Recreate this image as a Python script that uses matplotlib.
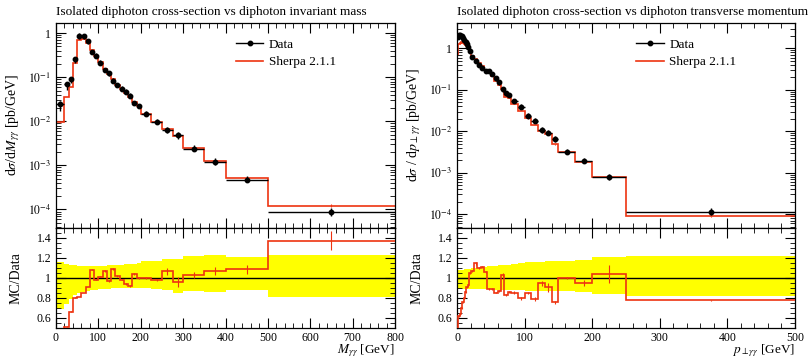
import matplotlib
matplotlib.use("Agg")
import matplotlib.pyplot as plt
import numpy as np
from matplotlib.lines import Line2D
from matplotlib.ticker import FixedLocator, MultipleLocator, FuncFormatter, LogLocator, NullFormatter

# ---- invariant mass ----
mass_edges = [0, 20, 30, 40, 50, 60, 70, 80, 90, 100, 110, 120, 130, 140, 150, 160, 170, 180, 190, 200,
              225, 250, 275, 300, 350, 400, 500, 800]
mass_data = [0.025, 0.070, 0.092, 0.26, 0.88, 0.86, 0.65, 0.38, 0.31, 0.216, 0.148, 0.122, 0.083, 0.066,
             0.055, 0.047, 0.038, 0.026, 0.022, 0.015, 0.0098, 0.0063, 0.0048, 0.0024, 0.00117, 0.00047, 8.9e-5]
mass_data_lo = [0.31, 0.26, 0.21, 0.17, 0.15, 0.14, 0.13, 0.12, 0.12, 0.11, 0.11, 0.11, 0.10, 0.10,
                0.10, 0.10, 0.10, 0.10, 0.10, 0.105, 0.11, 0.12, 0.15, 0.13, 0.14, 0.12, 0.19]
mass_data_hi = [0.16, 0.14, 0.13, 0.13, 0.12, 0.12, 0.12, 0.12, 0.12, 0.12, 0.12, 0.13, 0.13, 0.13,
                0.13, 0.14, 0.14, 0.14, 0.15, 0.165, 0.17, 0.19, 0.19, 0.22, 0.23, 0.21, 0.23]
mass_mc = [0.0096, 0.036, 0.061, 0.208, 0.71, 0.73, 0.59, 0.41, 0.304, 0.218, 0.158, 0.118, 0.090, 0.067,
           0.054, 0.044, 0.035, 0.027, 0.022, 0.015, 0.0096, 0.0067, 0.0046, 0.00247, 0.00125, 0.00051, 1.22e-4]
mass_mc_err = [0.02, 0.01, 0.01, 0.005, 0.004, 0.004, 0.004, 0.005, 0.005, 0.005, 0.006, 0.007, 0.008, 0.008,
               0.008, 0.009, 0.01, 0.01, 0.01, 0.01, 0.012, 0.03, 0.05, 0.03, 0.035, 0.04, 0.066]

# ---- transverse momentum ----
pt_edges = [0, 2, 4, 6, 8, 10, 12, 14, 16, 18, 20, 25, 30, 35, 40, 45, 50, 55, 60, 65, 70, 75, 80,
            90, 100, 110, 120, 130, 140, 150, 175, 200, 250, 500]
pt_data = [1.85, 2.05, 2.07, 2.0, 1.8, 1.6, 1.42, 1.25, 1.1, 0.88, 0.63, 0.49, 0.40, 0.33, 0.284, 0.288,
           0.24, 0.19, 0.151, 0.103, 0.082, 0.075, 0.054, 0.039, 0.024, 0.018, 0.0107, 0.0093, 0.0065,
           0.0032, 0.00195, 0.00078, 1.15e-4]
pt_data_lo = [0.11, 0.11, 0.11, 0.11, 0.11, 0.11, 0.11, 0.11, 0.11, 0.11, 0.11, 0.11, 0.11, 0.11, 0.11, 0.115,
              0.12, 0.12, 0.12, 0.12, 0.12, 0.12, 0.125, 0.125, 0.13, 0.13, 0.13, 0.13, 0.13,
              0.13, 0.14, 0.16, 0.18]
pt_data_hi = [0.08, 0.08, 0.08, 0.08, 0.08, 0.085, 0.085, 0.09, 0.09, 0.09, 0.10, 0.10, 0.10, 0.11, 0.11, 0.12,
              0.12, 0.12, 0.13, 0.13, 0.13, 0.13, 0.14, 0.15, 0.16, 0.16, 0.16, 0.17, 0.17,
              0.17, 0.18, 0.21, 0.22]
pt_mc = [0.74, 1.27, 1.32, 1.40, 1.37, 1.28, 1.22, 1.13, 1.02, 0.92, 0.67, 0.56, 0.44, 0.366, 0.30, 0.256,
         0.214, 0.162, 0.131, 0.106, 0.068, 0.0645, 0.046, 0.031, 0.0204, 0.0142, 0.0101, 0.0084, 0.0049,
         0.0032, 0.00185, 0.00081, 8.9e-5]
pt_mc_err = [0.02, 0.01, 0.01, 0.01, 0.01, 0.01, 0.01, 0.01, 0.01, 0.01, 0.01, 0.01, 0.01, 0.01, 0.01, 0.01,
             0.01, 0.01, 0.015, 0.02, 0.015, 0.015, 0.015, 0.015, 0.015, 0.02, 0.03, 0.05, 0.02,
             0.01, 0.03, 0.09, 0.01]

RED = "#EE3311"
YELLOW = "#FFFF00"

plt.rcParams["font.family"] = "serif"
plt.rcParams["font.serif"] = ["Liberation Serif", "DejaVu Serif"]
plt.rcParams["mathtext.fontset"] = "stix"
plt.rcParams["xtick.direction"] = "in"
plt.rcParams["ytick.direction"] = "in"
plt.rcParams["xtick.top"] = True
plt.rcParams["ytick.right"] = True
plt.rcParams["axes.linewidth"] = 0.9


def log_label(v, pos):
    e = int(round(np.log10(v)))
    if e == 0:
        return "1"
    if e == 1:
        return "10"
    return r"$10^{%d}$" % e


def style_ticks(ax):
    ax.tick_params(which="major", length=7, width=0.8, labelsize=8.5)
    ax.tick_params(which="minor", length=3.5, width=0.6)


def panel(ax, ax_r, edges, data, lo, hi, mc, mc_err, xmax, ylim, title, ylabel, xlabel, leg_x):
    edges = np.array(edges)
    data = np.array(data)
    lo = np.array(lo)
    hi = np.array(hi)
    mc = np.array(mc)
    mc_err = np.array(mc_err)
    centers = 0.5 * (edges[1:] + edges[:-1])
    halfw = 0.5 * (edges[1:] - edges[:-1])

    ax.set_yscale("log")
    ax.stairs(mc, edges, baseline=None, color=RED, lw=1.2, zorder=2)
    ax.errorbar(centers, mc, yerr=mc * mc_err, fmt="none", ecolor=RED, elinewidth=0.8, zorder=2)
    ax.errorbar(centers, data, xerr=halfw, yerr=[data * lo, data * hi], fmt="o", color="black",
                ms=3.2, elinewidth=1.0, capsize=0, zorder=3)
    ax.set_xlim(0, xmax)
    ax.set_ylim(*ylim)
    ax.yaxis.set_major_locator(LogLocator(base=10, numticks=20))
    ax.yaxis.set_minor_locator(LogLocator(base=10, subs=np.arange(2, 10), numticks=20))
    ax.yaxis.set_major_formatter(FuncFormatter(log_label))
    ax.yaxis.set_minor_formatter(NullFormatter())
    ax.xaxis.set_major_locator(MultipleLocator(100))
    ax.xaxis.set_minor_locator(MultipleLocator(20))
    ax.tick_params(labelbottom=False)
    style_ticks(ax)
    ax.set_title(title, loc="left", fontsize=9.5, pad=6)
    ax.set_ylabel(ylabel, fontsize=10)
    ax.yaxis.set_label_coords(-0.10, 0.5)

    handles = [Line2D([], [], color="black", marker="o", ms=3.2, lw=1.0),
               Line2D([], [], color=RED, lw=1.2)]
    ax.legend(handles, ["Data", "Sherpa 2.1.1"], loc="upper left", bbox_to_anchor=(leg_x, 0.925),
              frameon=False, fontsize=9.5, handlelength=2.1, handletextpad=0.4, labelspacing=0.4,
              borderpad=0, borderaxespad=0)

    # ratio panel
    ax_r.stairs(1 + hi, edges, baseline=1 - lo, fill=True, color=YELLOW, lw=0, zorder=1)
    ax_r.axhline(1.0, color="black", lw=1.0, zorder=2)
    ratio = mc / data
    ax_r.stairs(ratio, edges, baseline=None, color=RED, lw=1.2, zorder=3)
    ax_r.errorbar(centers, ratio, yerr=ratio * mc_err, fmt="none", ecolor=RED, elinewidth=0.8, zorder=3)
    ax_r.set_xlim(0, xmax)
    ax_r.set_ylim(0.5, 1.5)
    ax_r.yaxis.set_major_locator(FixedLocator([0.6, 0.8, 1.0, 1.2, 1.4]))
    ax_r.yaxis.set_minor_locator(MultipleLocator(0.05))
    ax_r.yaxis.set_major_formatter(FuncFormatter(lambda v, p: "%g" % round(v, 2)))
    ax_r.xaxis.set_major_locator(MultipleLocator(100))
    ax_r.xaxis.set_minor_locator(MultipleLocator(20))
    style_ticks(ax_r)
    ax_r.tick_params(axis="x", which="major", pad=3)
    ax_r.set_ylabel("MC/Data", fontsize=10)
    ax_r.yaxis.set_label_coords(-0.10, 0.5)
    ax_r.set_xlabel(xlabel, fontsize=9.5, loc="right")
    ax_r.xaxis.set_label_coords(1.0, -0.145)


fig = plt.figure(figsize=(8.09, 3.6), dpi=100)
ax1 = fig.add_axes([0.0692, 0.368, 0.4191, 0.568])
ax1r = fig.add_axes([0.0692, 0.0889, 0.4191, 0.2791])
ax2 = fig.add_axes([0.5649, 0.368, 0.4178, 0.568])
ax2r = fig.add_axes([0.5649, 0.0889, 0.4178, 0.2791])

panel(ax1, ax1r, mass_edges, mass_data, mass_data_lo, mass_data_hi, mass_mc, mass_mc_err, 800, (3.9e-5, 1.7),
      "Isolated diphoton cross-section vs diphoton invariant mass",
      r"d$\sigma$/d$M_{\gamma\gamma}$ [pb/GeV]", r"$M_{\gamma\gamma}$ [GeV]", 0.53)
panel(ax2, ax2r, pt_edges, pt_data, pt_data_lo, pt_data_hi, pt_mc, pt_mc_err, 500, (4.8e-5, 4.07),
      "Isolated diphoton cross-section vs diphoton transverse momentum",
      r"d$\sigma$ / d$p_{\perp\gamma\gamma}$ [pb/GeV]", r"$p_{\perp\gamma\gamma}$ [GeV]", 0.53)

fig.savefig("out.png", dpi=100)
